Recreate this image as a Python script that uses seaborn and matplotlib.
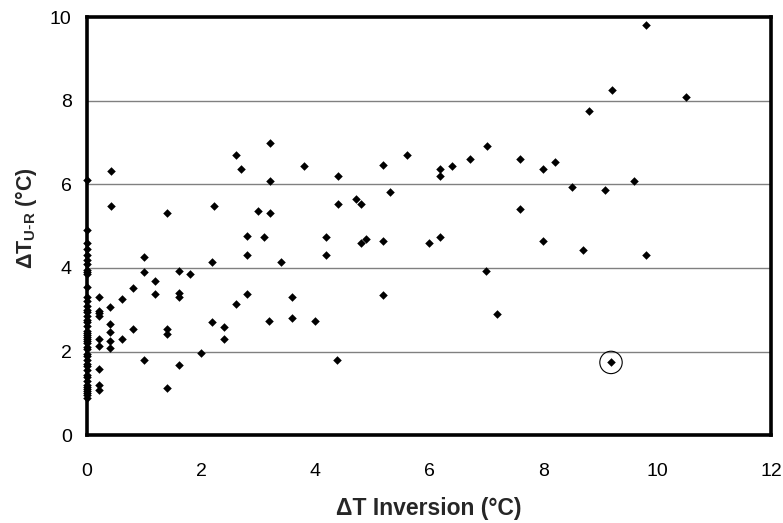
import numpy as np
import pandas as pd
import matplotlib
matplotlib.use("Agg")
import matplotlib.pyplot as plt
import seaborn as sns

# Data (ΔT inversion vs ΔT urban-rural)
x_zero_y = [6.1, 4.9, 4.6, 4.45, 4.3, 4.2, 4.1, 3.95, 3.9, 3.85, 3.55, 3.3, 3.2, 3.1,
            3.0, 2.95, 2.85, 2.75, 2.7, 2.6, 2.5, 2.45, 2.4, 2.35, 2.3, 2.25, 2.2, 2.1,
            2.05, 1.95, 1.9, 1.8, 1.7, 1.65, 1.55, 1.45, 1.4, 1.3, 1.2, 1.15, 1.1, 1.05,
            1.0, 0.95, 0.9]

x_other = [0.21, 0.21, 0.21, 0.21, 0.21, 0.21, 0.21, 0.21, 0.21,
           0.40, 0.40, 0.40, 0.40, 0.40, 0.42, 0.42,
           0.61, 0.61, 0.81, 0.81,
           1.0, 1.0, 1.0, 1.2, 1.2, 1.4, 1.4, 1.4, 1.41,
           1.61, 1.61, 1.61, 1.61, 1.81, 2.0, 2.2, 2.2, 2.22,
           2.40, 2.40, 2.61, 2.61, 2.71, 2.8, 2.8, 2.8, 3.0, 3.11,
           3.2, 3.21, 3.21, 3.21, 3.4, 3.6, 3.6, 3.81, 4.0,
           4.2, 4.2, 4.39, 4.40, 4.40, 4.71, 4.81, 4.81, 4.90,
           5.2, 5.2, 5.2, 5.31, 5.61, 6.0, 6.2, 6.2, 6.2, 6.41, 6.71,
           7.0, 7.01, 7.19, 7.6, 7.6, 8.0, 8.0, 8.2, 8.5, 8.70, 8.81,
           9.09, 9.2, 9.6, 9.8, 9.81, 10.5]
y_other = [3.30, 2.97, 2.92, 2.85, 2.30, 2.13, 1.58, 1.20, 1.08,
           3.07, 2.66, 2.46, 2.26, 2.08, 6.32, 5.48,
           3.25, 2.30, 3.52, 2.54,
           4.26, 3.91, 1.79, 3.69, 3.37, 2.54, 2.42, 1.13, 5.31,
           3.92, 3.41, 3.31, 1.67, 3.86, 1.96, 4.14, 2.70, 5.48,
           2.58, 2.30, 6.70, 3.14, 6.36, 4.76, 4.31, 3.37, 5.37, 4.75,
           2.74, 6.99, 6.09, 5.31, 4.14, 3.31, 2.80, 6.43, 2.74,
           4.75, 4.31, 1.79, 6.20, 5.53, 5.65, 5.53, 4.59, 4.70,
           6.47, 4.64, 3.36, 5.81, 6.70, 4.59, 6.37, 6.20, 4.75, 6.43, 6.60,
           3.92, 6.93, 2.91, 6.60, 5.42, 6.36, 4.64, 6.53, 5.93, 4.42, 7.76,
           5.87, 8.26, 6.09, 4.30, 9.81, 8.09]

circled_x = [9.19]
circled_y = [1.74]

x_ticks = [0, 2, 4, 6, 8, 10, 12]
y_ticks = [0, 2, 4, 6, 8, 10]

df = pd.DataFrame({
    "x": [0.0] * len(x_zero_y) + x_other + circled_x,
    "y": x_zero_y + y_other + circled_y,
})
df_circ = pd.DataFrame({"x": circled_x, "y": circled_y})

sns.set_theme(style="white")
plt.rcParams["font.family"] = ["Liberation Sans", "DejaVu Sans"]
plt.rcParams["mathtext.default"] = "regular"

fig = plt.figure(figsize=(7.83, 5.23), dpi=100)
ax = fig.add_axes([0.111, 0.168, 0.874, 0.799])

for g in [2, 4, 6, 8]:
    ax.axhline(g, color="#808080", lw=1.0, zorder=1)

sns.scatterplot(data=df, x="x", y="y", marker="D", s=19, color="black",
                edgecolor="black", linewidth=0, ax=ax, zorder=5, clip_on=False)
sns.scatterplot(data=df_circ, x="x", y="y", marker="o", s=260,
                facecolor="none", edgecolor="black", linewidth=0.8, ax=ax, zorder=5)

ax.set_xlim(0, 12)
ax.set_ylim(0, 10)
ax.set_xticks(x_ticks)
ax.set_yticks(y_ticks)
ax.tick_params(axis="both", direction="in", length=5, width=1, color="#808080",
               labelsize=14, labelcolor="black")
ax.tick_params(axis="x", pad=20)
ax.tick_params(axis="y", pad=11)

for sp in ax.spines.values():
    sp.set_visible(True)
    sp.set_color("black")
    sp.set_linewidth(2.6)
    sp.set_zorder(4)

ax.set_xlabel("ΔT Inversion (°C)", fontsize=16.5, fontweight="bold", labelpad=12)
ax.set_ylabel(r"ΔT$_{U\text{-}R}$ (°C)", fontsize=15.5, fontweight="bold")
ax.yaxis.set_label_coords(-0.070, 0.52)

fig.savefig("out.png", dpi=100)
